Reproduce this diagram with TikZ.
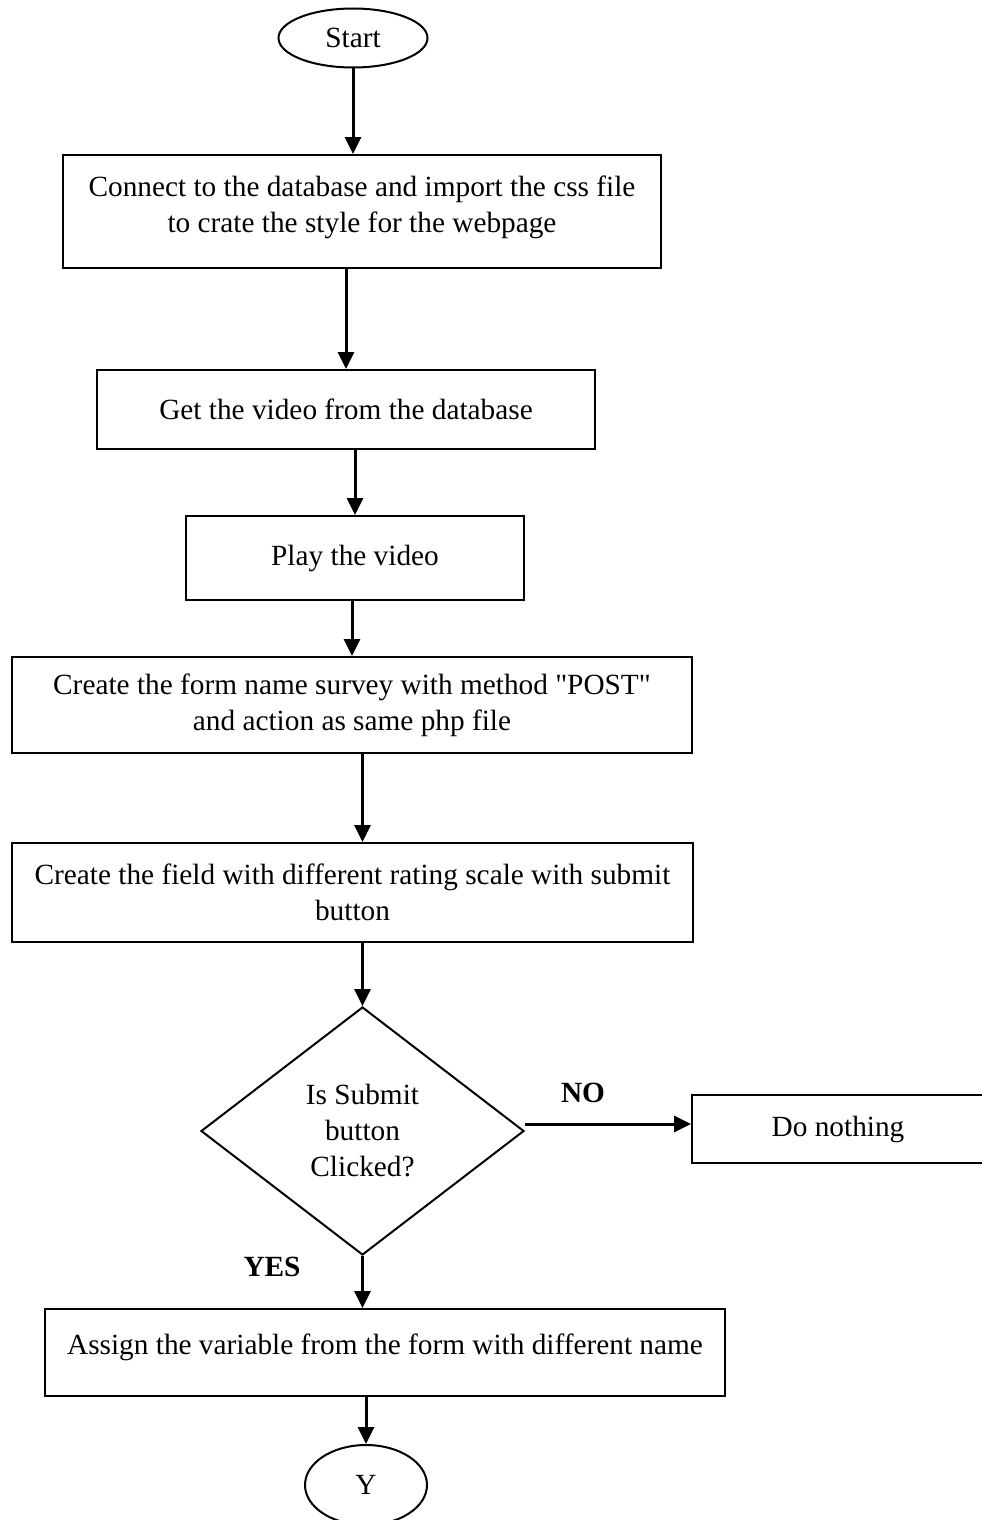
\documentclass[tikz,border=0pt]{standalone}
\usepackage{fontspec}
\setmainfont{Liberation Serif}
\usetikzlibrary{shapes.geometric,arrows.meta}

\begin{document}
\begin{tikzpicture}[x=1pt,y=-1pt,
  box/.style={draw,line width=2pt,inner sep=0pt,align=center,font=\fontsize{29.3}{36}\selectfont},
  term/.style={box,ellipse},
  decide/.style={box,diamond},
  flow/.style={line width=3pt,-{Triangle[length=17pt,width=16pt]}},
  answer/.style={font=\fontsize{29.3}{32}\selectfont\bfseries}]
%\draw[help lines,step=100] (0,0) grid (982,1520);
\useasboundingbox (0,0) rectangle (982,1520);

\node at (353,38) [term,minimum width=149pt,minimum height=59pt] (start) {Start};
\node at (362,211.5) [box,minimum width=598pt,minimum height=113pt] (connect) {\raisebox{4pt}[\height][\depth]{\begin{tabular}{@{}c@{}}Connect to the database and import the css file\\to crate the style for the webpage\end{tabular}}};
\node at (346,409.5) [box,minimum width=498pt,minimum height=79pt] (getvideo) {Get the video from the database};
\node at (355,558) [box,minimum width=338pt,minimum height=84pt] (play) {Play the video};
\node at (352,705) [box,minimum width=680pt,minimum height=96pt] (form) {Create the form name survey with method \textquotedbl POST\textquotedbl\\and action as same php file};
\node at (352.5,892.5) [box,minimum width=681pt,minimum height=99pt] (field) {Create the field with different rating scale with submit\\button};
\node at (362.5,1131) [decide,minimum width=323pt,minimum height=248pt] (clicked) {Is Submit\\button\\Clicked?};
\node at (838,1129) [box,minimum width=292pt,minimum height=68pt] (nothing) {Do nothing};
\node at (385,1352.5) [box,minimum width=680pt,minimum height=87pt] (assign) {\raisebox{5pt}[\height][\depth]{Assign the variable from the form with different name}};
\node at (366,1485) [term,minimum width=122pt,minimum height=80pt] (ynext) {Y};

\draw [flow] (start.south) -- (start.south |- connect.north);
\draw [flow] (getvideo.north |- connect.south) -- (getvideo.north);
\draw [flow] (play.north |- getvideo.south) -- (play.north);
\draw [flow] (form.north |- play.south) -- (form.north);
\draw [flow] (form.south -| clicked.north) -- (field.north -| clicked.north);
\draw [flow] (clicked.north |- field.south) -- (clicked.north);
\draw [flow] ([yshift=7pt]clicked.east) -- ([yshift=7pt]clicked.east -| nothing.west);
\draw [flow] (clicked.south) -- (clicked.south |- assign.north);
\draw [flow] (ynext.north |- assign.south) -- (ynext.north);

\node at (583,1093) [answer] (no) {NO};
\node at (272,1267) [answer] (yes) {YES};
\end{tikzpicture}
\end{document}
